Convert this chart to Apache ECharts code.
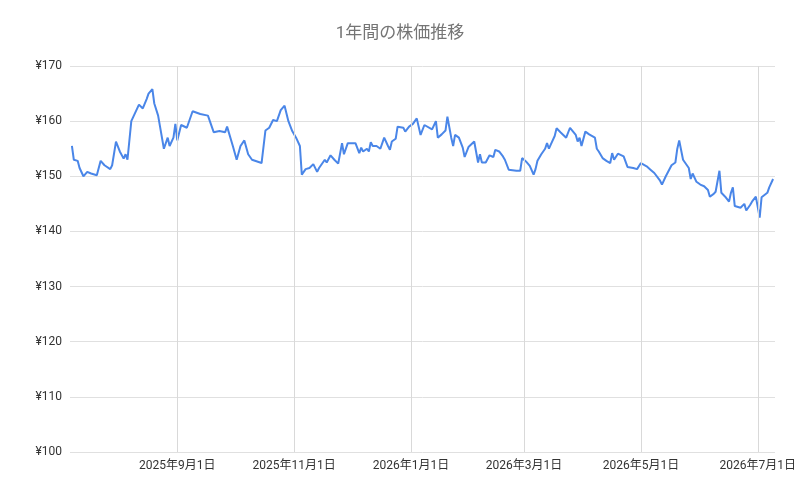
<!DOCTYPE html>
<html><head><meta charset="utf-8">
<script src="https://cdn.jsdelivr.net/npm/echarts@6/dist/echarts.min.js"></script>
<style>html,body{margin:0;background:#fff}#c{width:800px;height:494px}</style>
</head><body><div id="c"></div>
<script>
const startDate = '2025-07-08';
const dayOffsets = [0,1,3,4,6,8,10,13,15,17,20,21,23,25,27,28,29,31,33,35,37,39,40,42,43,45,46,48,50,51,53,54,55,57,60,63,67,71,74,77,80,81,84,86,88,90,92,94,99,101,103,105,107,109,111,113,115,116,117,119,120,122,124,126,127,128,129,132,133,135,137,139,141,142,144,146,148,150,151,152,154,155,156,157,159,161,163,165,166,167,169,170,173,174,176,178,180,182,184,185,188,190,191,193,195,196,198,199,200,202,204,205,207,210,212,213,214,216,218,220,221,223,225,226,228,232,234,235,237,239,241,242,243,245,247,248,249,250,252,253,255,258,260,261,263,264,265,266,268,270,273,274,275,277,279,281,282,283,285,288,290,293,295,296,297,300,302,304,307,308,310,311,313,315,316,317,319,322,323,324,326,328,330,332,333,335,336,338,339,341,343,344,345,346,349,350,351,352,354,355,357,359,360,361,363,364,366];
const prices = [155.5,153,152.8,151.5,150,150.8,150.5,150.2,152.8,152,151.3,152,156.3,154.5,153.2,154,153,160,161.5,163,162.3,164,165,165.8,163.2,161,159,155,157,155.5,157,159.5,156.5,159.3,158.8,161.8,161.3,161,158,158.2,158,159,155.5,153,155.5,156.5,154,153,152.4,158.3,158.8,160.2,160,162,162.8,160,158.2,158.3,157,155.5,150.3,151.3,151.5,152.2,152,150.8,151.5,153,152.5,153.8,153,152.3,156,154,156,156,156,154.2,155.2,154.5,155,154.5,156.2,155.5,155.5,155,157,155.5,154.8,156.3,156.8,159,158.8,158.1,159,159.5,160.5,157.5,159.3,159,158.5,160,157,157.6,158.3,160.8,157,155.5,157.5,157,155.2,153.5,155.3,156.3,152.5,154,152.5,152.5,153.8,153.5,154.8,154.5,153.6,153,151.2,151,151,153.3,152.7,151.9,150.3,151.3,152.8,154,155,156,155,155.8,157.3,158.7,158,157,158.8,159,157.5,156.3,157,155.5,158.1,157.6,157,155,154.5,153.3,152.8,152.4,154.2,153,154.1,153.6,151.7,151.5,151.3,151.3,152.4,151.8,151.2,150.6,149.2,148.5,150,149.8,152,152.5,155,156.5,153,151.5,149.5,150.5,149,148.5,148.2,147.5,146.3,146.8,147.2,151,147,146.3,145.4,147,148,144.6,144.3,144.2,145,143.8,144.8,145.4,146.3,142.5,146.2,146.5,147,148,149.5];
const tickDates = ['2025-09-01','2025-11-01','2026-01-01','2026-03-01','2026-05-01','2026-07-01'];
const tickLabels = ['2025年9月1日','2025年11月1日','2026年1月1日','2026年3月1日','2026年5月1日','2026年7月1日'];

const DAY = 86400000;
const t0 = Date.parse(startDate + 'T00:00:00Z');
const data = dayOffsets.map((d, i) => [t0 + d * DAY, prices[i]]);
const font = "Roboto, 'Noto Sans CJK JP', sans-serif";
const chart = echarts.init(document.getElementById('c'));
chart.setOption({
  animation: false,
  title: { text: '1年間の株価推移', left: 'center', top: 20,
    textStyle: { color: '#757575', fontSize: 17, fontWeight: 'normal', fontFamily: font } },
  grid: { left: 70, right: 25, top: 66, bottom: 42 },
  xAxis: { type: 'time', min: t0 - DAY, max: t0 + 367 * DAY,
    axisLine: { show: false }, axisTick: { show: false }, axisLabel: { show: false }, splitLine: { show: false } },
  yAxis: { type: 'value', min: 100, max: 170, interval: 10,
    axisLabel: { formatter: v => '¥' + v, color: '#333', fontSize: 12, fontFamily: font },
    axisLine: { show: false }, axisTick: { show: false },
    splitLine: { lineStyle: { color: '#e0e0e0' } } },
  series: [{
    type: 'line', data, showSymbol: false, symbol: 'none',
    lineStyle: { color: '#4a86e8', width: 2 }, z: 3,
    markLine: { silent: true, symbol: 'none',
      lineStyle: { color: '#d9d9d9', type: 'solid', width: 1 },
      label: { position: 'start', color: '#333', fontSize: 12, fontFamily: font, distance: 8,
        formatter: p => tickLabels[tickDates.indexOf(p.name)] },
      data: tickDates.map(d => ({ name: d, xAxis: Date.parse(d + 'T00:00:00Z') })) }
  }]
});
</script></body></html>
